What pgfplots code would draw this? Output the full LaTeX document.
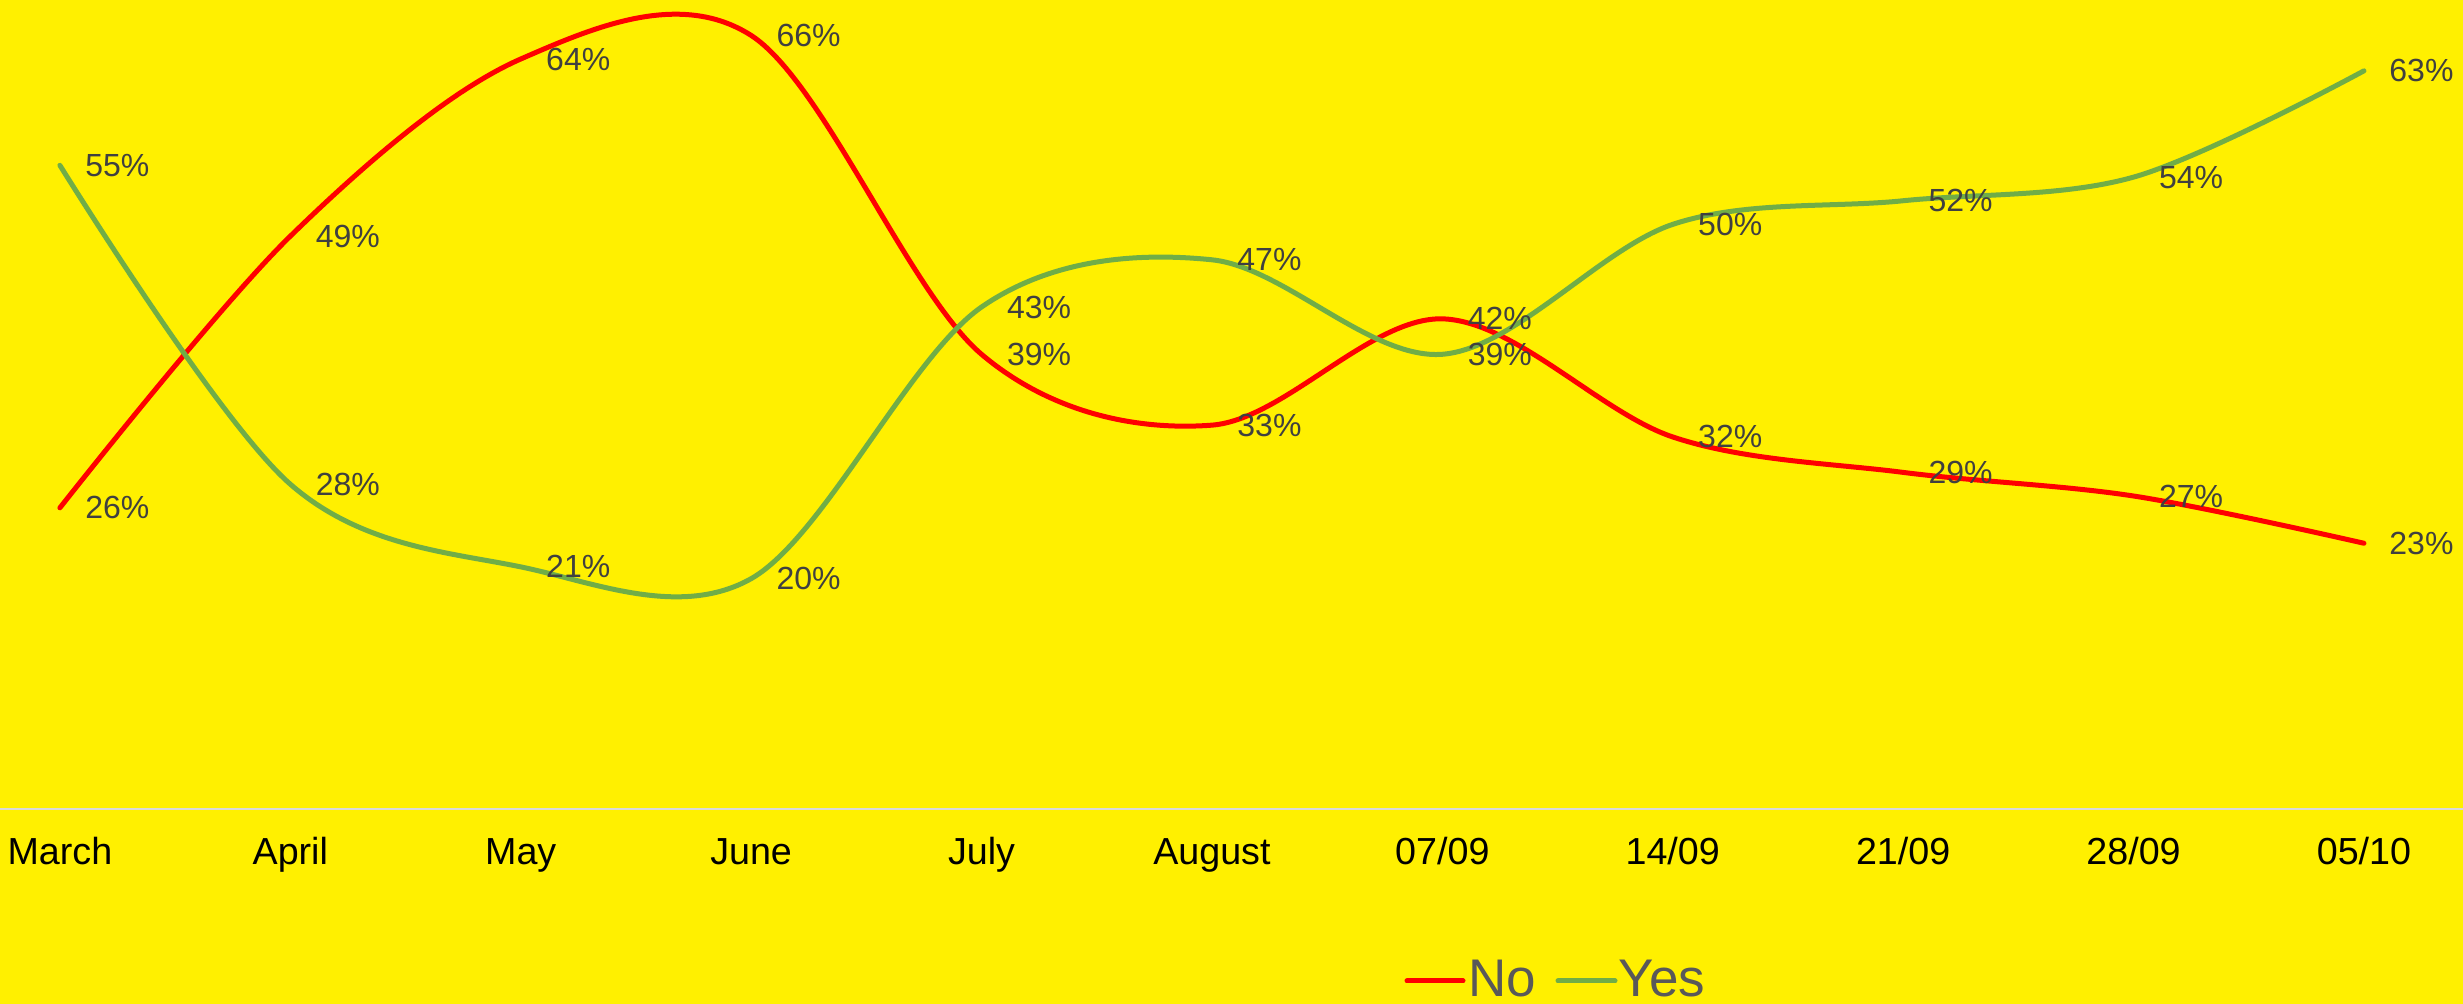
\documentclass[border=0pt]{standalone}
\usepackage{pgfplots}
\pgfplotsset{compat=1.18}
\usepackage{fontspec}
\setmainfont{Liberation Sans}

\definecolor{bg}{HTML}{FFF000}
\definecolor{nored}{HTML}{FF0000}
\definecolor{yesgreen}{HTML}{70AD47}
\definecolor{lblgray}{HTML}{404040}
\definecolor{leggray}{HTML}{595959}
\definecolor{axgray}{HTML}{D9D9D9}

\begin{document}
\begin{tikzpicture}
    % background, 1px = 0.3pt
    \fill[bg] (0pt,-58.5pt) rectangle (738.9pt,242.7pt);
    \useasboundingbox (0pt,-58.5pt) rectangle (738.9pt,242.7pt);
    \begin{axis}[
        at={(0pt,0pt)},
        anchor=south west,
        scale only axis,
        width=738.9pt,
        height=242.7pt,
        %
        xmin=-0.26,
        xmax=10.43,
        ymin=0.5,
        ymax=69,
        clip=false,
        %
        axis y line=none,
        axis x line*=bottom,
        x axis line style={draw=axgray, line width=0.4pt, -},
        %
        xtick={0,1,2,3,4,5,6,7,8,9,10},
        xticklabels={March,April,May,June,July,August,07/09,14/09,21/09,28/09,05/10},
        xtick style={draw=none},
        xticklabel style={
            anchor=base,
            yshift=-16.8pt,
            inner sep=0pt,
            text=black,
            font=\fontsize{11.3}{13}\selectfont
        },
        %
        nodes near coords={\pgfmathprintnumber[assume math mode=true]{\pgfplotspointmeta}\%},
        every node near coord/.append style={
            anchor=west,
            inner sep=0pt,
            xshift=6.9pt,
            text=lblgray,
            font=\fontsize{9.6}{11}\selectfont
        }
    ]
    %
    % No
    \addplot[nored, line width=1.5pt, line cap=round, smooth, tension=0.56]
        coordinates {
        (0,26) (1,49) (2,64) (3,66) (4,39) (5,33)
        (6,42) (7,32) (8,29) (9,27) (10,23)
    };
    %
    % Yes
    \addplot[yesgreen, line width=1.5pt, line cap=round, smooth, tension=0.56]
        coordinates {
        (0,55) (1,28) (2,21) (3,20) (4,43) (5,47)
        (6,39) (7,50) (8,52) (9,54) (10,63)
    };
    \end{axis}
    %
    % legend
    \draw[nored, line width=1.5pt, line cap=round] (422.1pt,-51.6pt) -- (438.9pt,-51.6pt);
    \node[anchor=base west, inner sep=0pt, text=leggray,
          font=\fontsize{15.9}{18}\selectfont] at (440.4pt,-56.4pt) {No};
    \draw[yesgreen, line width=1.5pt, line cap=round] (467.4pt,-51.6pt) -- (484.5pt,-51.6pt);
    \node[anchor=base west, inner sep=0pt, text=leggray,
          font=\fontsize{15.9}{18}\selectfont] at (485.4pt,-56.4pt) {Yes};
\end{tikzpicture}
\end{document}
